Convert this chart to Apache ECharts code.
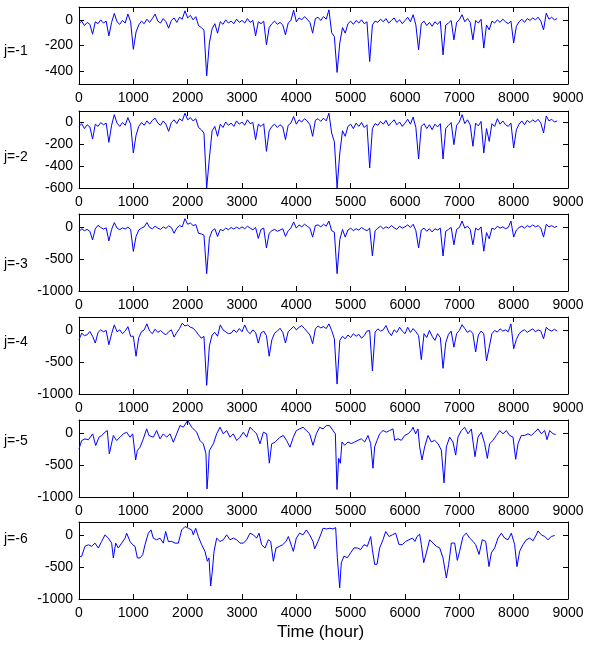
<!DOCTYPE html>
<html><head><meta charset="utf-8">
<script src="https://cdn.jsdelivr.net/npm/echarts@6/dist/echarts.min.js"></script>
<style>html,body{margin:0;padding:0;background:#fff}#c{width:590px;height:645px}</style>
</head><body><div id="c"></div>
<script>
// ---- data (time in hours) ----
const xTicks = [0,1000,2000,3000,4000,5000,6000,7000,8000,9000];
const panelLabels = ['j=-1','j=-2','j=-3','j=-4','j=-5','j=-6'];
const yTicks1 = [-400,-200,0];
const yTicks2 = [-600,-400,-200,0];
const yTicks3 = [-1000,-500,0];

const step1 = 50;
const d1 = [
-30,-10,-45,-20,-35,-112,-15,-30,0,-25,
-10,-125,-20,50,-15,-35,-5,-25,45,-15,
-230,-95,-40,-10,-30,5,-20,10,45,-10,
-25,10,-15,-65,-5,15,-20,20,5,70,
15,35,0,25,-45,-60,-80,-437,-180,-70,
-30,-104,-15,-35,0,-25,-10,-30,5,-20,
-5,-25,10,-20,-5,-125,-15,-30,-10,-195,
-60,-30,-10,-35,-20,-40,-117,-25,-5,75,
-15,15,0,25,5,-20,-104,10,20,-5,
25,5,78,-100,-130,-410,-180,-60,-104,-30,
-10,-35,-5,-25,0,-30,-15,-325,-40,-10,
-20,5,-15,10,-25,-5,15,-20,0,-30,
-5,20,-15,40,-40,-234,-30,-10,-45,-20,
-50,-15,-35,-10,-273,-40,-25,-5,-156,-20,
0,40,-15,10,-20,-156,-5,-25,5,-220,
-40,-78,-10,-25,0,-20,5,-15,-30,-10,
-180,-50,-15,5,-20,10,-5,15,0,20,
-10,-78,52,5,20,0,10];

const step2 = 50;
const d2 = [
-40,-15,-60,-25,-45,-155,-20,-40,-5,-25,
-10,-185,-30,67,-10,-40,-5,-30,40,-20,
-282,-120,-40,-5,-30,10,-20,15,35,-10,
-30,10,-20,-85,-5,20,-15,30,10,80,
20,40,10,30,-50,-70,-100,-600,-327,-80,
-40,-130,-20,-50,0,-30,-10,-40,10,-20,
0,-30,20,-15,-5,-160,-20,-40,-15,-267,
-80,-40,-20,-50,-25,-45,-160,-30,-10,50,
-20,20,0,30,10,-25,-130,15,30,5,
35,10,80,-100,-180,-600,-282,-80,-130,-40,
-20,-60,-10,-40,-5,-50,-25,-418,-60,-15,
-30,5,-20,15,-35,-5,20,-25,0,-40,
-10,25,-20,45,-50,-336,-40,-15,-60,-25,
-70,-20,-45,-15,-336,-60,-30,-5,-206,-30,
0,67,-15,20,-25,-221,-10,-35,5,-282,
-60,-176,-15,-40,30,-20,10,-25,-40,-10,
-236,-70,-20,10,-25,15,-5,20,0,25,
-10,-100,55,10,25,0,10];

const step3 = 50;
const d3 = [
-75,-30,-60,-40,-70,-204,-30,25,-10,-35,
-15,-220,-40,66,-20,-45,-15,-35,-5,-40,
-383,-150,-50,-20,0,66,-10,-30,10,-20,
-40,0,-25,15,-10,-100,-20,20,0,127,
40,60,20,35,-100,-110,-130,-730,-180,-60,
-30,-150,-40,-60,-20,-45,-10,-35,-5,-30,
0,-30,10,-20,-45,-10,-180,-40,-20,-330,
-100,-60,-40,-70,-50,-30,-150,-60,-20,77,
-20,30,0,40,10,-20,-160,20,30,0,
40,10,90,-60,-85,-730,-200,-40,-160,-50,
-20,-60,-30,-50,-10,-40,-60,-20,-455,-60,
-20,10,-30,0,-20,20,-15,-40,10,-20,
0,30,-10,40,-60,-330,-50,-20,-70,-30,
-80,-30,-50,-20,-455,-70,-40,-10,-280,-40,
-10,90,-20,10,-40,-280,-20,-50,0,-380,
-90,-185,-20,-40,10,-20,0,-30,-10,90,
-160,-50,-10,10,-20,20,-5,30,0,20,
-20,-160,40,0,20,-10,10];

const step4 = 50;
const d4 = [
-155,-52,-90,-77,-26,-100,-206,-40,0,-30,
-10,-232,-60,77,-30,0,-60,-20,50,-100,
-100,-412,-120,-30,0,93,-20,-60,10,-40,
-10,-50,-77,-30,0,-113,-40,20,103,60,
77,40,26,-20,-77,-129,-103,-865,-250,-80,
-40,-100,77,0,-30,-60,-52,0,-40,20,
-30,77,-20,-60,0,-40,-206,-50,-20,-90,
-412,-155,-52,-20,25,-40,-206,-30,10,52,
0,40,67,20,-30,-80,-216,15,60,30,
50,20,93,-10,-140,-845,-165,-100,-140,-80,
-120,-60,-100,-70,-130,-90,-20,-10,-640,-35,
15,-20,0,67,-35,-90,0,-40,40,-20,
-60,40,-40,20,-30,-90,-465,-60,-120,-10,
-100,-165,-60,-120,-600,-200,-70,-20,-270,-60,
-10,80,20,-40,-10,-60,-345,-80,-20,-60,
-485,-270,-60,-10,-35,15,-20,0,-30,93,
-295,-150,-60,-20,0,-40,-10,15,-30,0,
-20,-140,40,0,-20,10,-20];

const t5 = [0,49,110,172,252,307,368,417,479,521,558,632,693,755,816,877,939,988,1043,1074,1123,1184,1245,1288,1368,1429,1491,1552,1613,1675,1736,1798,1859,1920,2000,2074,2166,2227,2288,2337,2356,2374,2399,2472,2534,2595,2656,2718,2779,2840,2902,2963,3025,3086,3147,3209,3270,3331,3393,3454,3503,3546,3607,3699,3761,3822,3883,3945,
4000,4061,4123,4184,4245,4307,4368,4429,4491,4552,4613,4675,4718,4748,4779,4810,4840,4890,4951,5012,5074,5135,5196,5258,5319,5368,5411,5442,5485,5534,5595,5656,5718,5779,5810,5871,5933,5994,6055,6117,6147,6196,6239,6270,6313,6362,6423,6485,6546,6607,6669,6718,6761,6822,6883,6933,6975,7037,7098,7160,7221,7288,7344,7405,7466,7515,7558,7620,7681,7742,7804,7865,7926,7988,8037,8080,8141,8202,8264,8325,8387,8448,8509,8571,8614,8663,8724,8773];
const d5 = [-250,-120,-94,-109,-16,-198,-68,-42,10,36,-328,-42,-120,-68,-16,10,-68,-16,-421,-276,-224,-94,62,-42,-68,36,-94,-16,-68,-16,-146,-16,114,88,192,88,10,-120,-172,-328,-874,-666,-276,-172,-16,88,-16,36,-68,-16,-120,-68,10,-68,88,36,-16,-172,10,-16,-473,-172,-146,-68,-42,-120,-224,-68,
36,61,87,36,-15,-194,-15,87,61,112,112,36,-15,-882,-398,-474,-143,-194,-143,-168,-143,-117,-92,-143,-41,-168,-551,-219,-117,-15,36,10,36,61,-117,-92,-117,-41,-15,36,87,-15,61,-219,-423,-219,-41,-143,-117,-168,-270,-780,-219,-66,-143,-347,-66,36,87,-15,61,-372,-66,10,-168,-398,-168,-117,-41,36,-15,36,-41,-66,-413,-168,-41,-41,-15,-41,10,61,-15,36,-107,36,-15,-25];

const t6 = [0,49,110,172,233,294,356,417,479,540,601,632,675,724,785,847,877,939,988,1031,1074,1123,1172,1215,1276,1325,1368,1429,1491,1552,1595,1644,1706,1767,1828,1890,1951,2012,2074,2104,2147,2196,2258,2319,2362,2393,2423,2454,2485,2534,2595,2656,2718,2779,2840,2902,2963,3025,3086,3147,3209,3270,3313,3362,3423,3485,3528,3577,3626,3687,3748,3810,3853,3914,3945,
4000,4061,4123,4184,4245,4307,4337,4399,4460,4491,4552,4613,4675,4724,4755,4798,4828,4877,4939,5000,5061,5123,5184,5245,5307,5368,5399,5442,5485,5534,5595,5644,5706,5767,5828,5890,5951,6012,6074,6135,6184,6221,6270,6301,6344,6393,6454,6515,6577,6638,6699,6761,6804,6853,6914,6963,7006,7067,7129,7190,7252,7301,7362,7423,7485,7546,7589,7650,7712,7773,7834,7896,7957,8018,8061,8110,8172,8233,8294,8356,8417,8448,8509,8571,8632,8693,8755];
const d6 = [-345,-335,-180,-155,-180,-129,-206,-103,0,-52,-129,-360,-129,-206,-129,-52,26,-103,-155,-180,-360,-360,-309,-155,26,77,-52,-77,-52,-129,52,-103,-103,-129,-129,77,129,103,77,0,103,-26,-155,-258,-412,-360,-798,-567,-258,-52,-103,-77,0,-77,-52,-77,-129,-129,-77,26,0,-52,26,-155,-206,-77,-103,-412,-206,-180,-155,-103,-26,-180,-258,
-51,26,0,77,0,-102,-219,-102,26,102,92,102,92,112,-357,-826,-434,-332,-357,-281,-204,-204,-230,-153,-179,-26,-230,-459,-459,-204,-77,51,-26,0,26,-153,-153,-102,-77,-51,-102,-26,10,-153,-434,-281,-77,-128,-179,-204,-357,-673,-459,-128,-128,-398,-255,-26,26,-51,-102,-153,-306,-77,-102,-495,-281,-204,-51,26,-51,-77,26,-153,-495,-255,-153,-77,-51,-92,0,61,0,-26,-77,-26,-10];

// ---- build ----
const series1 = d1.map((v,i)=>[i*step1,v]);
const series2 = d2.map((v,i)=>[i*step2,v]);
const series3 = d3.map((v,i)=>[i*step3,v]);
const series4 = d4.map((v,i)=>[i*step4,v]);
const series5 = t5.map((t,i)=>[t,d5[i]]);
const series6 = t6.map((t,i)=>[t,d6[i]]);

const panels = [
  {data:series1, min:-500, max:100, ticks:yTicks1, top:7,   labelY:52},
  {data:series2, min:-600, max:100, ticks:yTicks2, top:111, labelY:158},
  {data:series3, min:-1000,max:200, ticks:yTicks3, top:214, labelY:265},
  {data:series4, min:-1000,max:200, ticks:yTicks3, top:317, labelY:343},
  {data:series5, min:-1000,max:200, ticks:yTicks3, top:420, labelY:442},
  {data:series6, min:-1000,max:200, ticks:yTicks3, top:522, labelY:540}
];

const FONT = "'Liberation Sans', Arial, sans-serif";
const fmt = v => String(v);
const grid=[], xAxis=[], yAxis=[], series=[], graphic=[];
const line = {show:true, onZero:false, lineStyle:{color:'#000', width:1}};
panels.forEach((p,k)=>{
  grid.push({left:79, width:489, top:p.top, height:77, containLabel:false});
  const xb = {gridIndex:k, type:'value', min:0, max:9000, interval:1000,
    axisLine:line, axisTick:{show:true, inside:true, length:5, customValues:xTicks, lineStyle:{color:'#000'}},
    splitLine:{show:false},
    axisLabel:{show:true, customValues:xTicks, formatter:fmt, color:'#000', fontSize:14, fontFamily:FONT, margin:7}};
  xAxis.push(xb);
  xAxis.push(Object.assign({}, xb, {position:'top', axisLabel:{show:false}}));
  const yl = {gridIndex:k, type:'value', min:p.min, max:p.max,
    axisLine:line, splitLine:{show:false},
    axisTick:{show:true, inside:true, length:5, customValues:p.ticks, lineStyle:{color:'#000'}},
    axisLabel:{show:true, customValues:p.ticks, formatter:fmt, color:'#000', fontSize:14, fontFamily:FONT, margin:6}};
  yAxis.push(yl);
  yAxis.push(Object.assign({}, yl, {position:'right', axisLabel:{show:false, customValues:p.ticks}}));
  series.push({type:'line', xAxisIndex:2*k, yAxisIndex:2*k, data:p.data, showSymbol:false,
    symbol:'none', lineStyle:{color:'#0000ff', width:1}, animation:false, silent:true});
  graphic.push({type:'text', left:4, top:p.labelY-8,
    style:{text:panelLabels[k], fill:'#000', font:"14px "+FONT}});
});
graphic.push({type:'text', left:277, top:624, style:{text:'Time (hour)', fill:'#000', font:"17px "+FONT}});

const chart = echarts.init(document.getElementById('c'), null, {renderer:'canvas'});
chart.setOption({animation:false, backgroundColor:'#fff', grid, xAxis, yAxis, series, graphic});
</script></body></html>
